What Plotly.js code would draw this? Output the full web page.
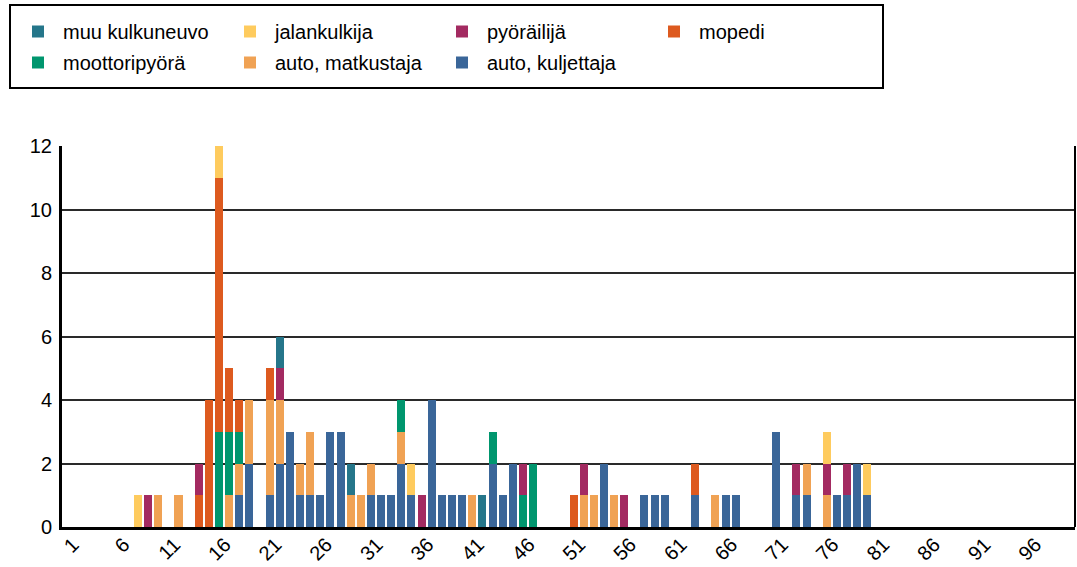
<!DOCTYPE html>
<html>
<head>
<meta charset="utf-8">
<script src="https://cdn.plot.ly/plotly-3.0.1.min.js"></script>
<style>
  html, body { margin: 0; padding: 0; background: #fff; }
  #chart { width: 1077px; height: 567px; }
</style>
</head>
<body>
<div id="chart"></div>
<script>
// Ages 1..100 (category axis)
const ages = Array.from({length: 100}, (_, i) => i + 1);
const xTickLabels = [1, 6, 11, 16, 21, 26, 31, 36, 41, 46, 51, 56, 61, 66, 71, 76, 81, 86, 91, 96];

// Series values, one value per age (rows of ten: 1-10, 11-20, ...)
const autoKuljettaja = [
  0,0,0,0,0,0,0,0,0,0,
  0,0,0,0,0,0,0,1,2,0,
  1,2,3,1,1,1,3,3,0,0,
  1,1,1,2,1,0,4,1,1,1,
  0,0,2,1,2,0,0,0,0,0,
  0,0,0,2,0,0,0,1,1,1,
  0,0,1,0,0,1,1,0,0,0,
  3,0,1,1,0,0,1,1,2,1,
  0,0,0,0,0,0,0,0,0,0,
  0,0,0,0,0,0,0,0,0,0
];
const autoMatkustaja = [
  0,0,0,0,0,0,0,0,0,1,
  0,1,0,0,0,0,1,1,2,0,
  3,2,0,1,2,0,0,0,1,1,
  1,0,0,1,0,0,0,0,0,0,
  1,0,0,0,0,0,0,0,0,0,
  0,1,1,0,1,0,0,0,0,0,
  0,0,0,0,1,0,0,0,0,0,
  0,0,0,1,0,1,0,0,0,0,
  0,0,0,0,0,0,0,0,0,0,
  0,0,0,0,0,0,0,0,0,0
];
const moottoripyora = [
  0,0,0,0,0,0,0,0,0,0,
  0,0,0,0,0,3,2,1,0,0,
  0,0,0,0,0,0,0,0,0,0,
  0,0,0,1,0,0,0,0,0,0,
  0,0,1,0,0,1,2,0,0,0,
  0,0,0,0,0,0,0,0,0,0,
  0,0,0,0,0,0,0,0,0,0,
  0,0,0,0,0,0,0,0,0,0,
  0,0,0,0,0,0,0,0,0,0,
  0,0,0,0,0,0,0,0,0,0
];
const mopedi = [
  0,0,0,0,0,0,0,0,0,0,
  0,0,0,1,4,8,2,1,0,0,
  1,0,0,0,0,0,0,0,0,0,
  0,0,0,0,0,0,0,0,0,0,
  0,0,0,0,0,0,0,0,0,0,
  1,0,0,0,0,0,0,0,0,0,
  0,0,1,0,0,0,0,0,0,0,
  0,0,0,0,0,0,0,0,0,0,
  0,0,0,0,0,0,0,0,0,0,
  0,0,0,0,0,0,0,0,0,0
];
const pyorailija = [
  0,0,0,0,0,0,0,0,1,0,
  0,0,0,1,0,0,0,0,0,0,
  0,1,0,0,0,0,0,0,0,0,
  0,0,0,0,0,1,0,0,0,0,
  0,0,0,0,0,1,0,0,0,0,
  0,1,0,0,0,1,0,0,0,0,
  0,0,0,0,0,0,0,0,0,0,
  0,0,1,0,0,1,0,1,0,0,
  0,0,0,0,0,0,0,0,0,0,
  0,0,0,0,0,0,0,0,0,0
];
const jalankulkija = [
  0,0,0,0,0,0,0,1,0,0,
  0,0,0,0,0,1,0,0,0,0,
  0,0,0,0,0,0,0,0,0,0,
  0,0,0,0,1,0,0,0,0,0,
  0,0,0,0,0,0,0,0,0,0,
  0,0,0,0,0,0,0,0,0,0,
  0,0,0,0,0,0,0,0,0,0,
  0,0,0,0,0,1,0,0,0,1,
  0,0,0,0,0,0,0,0,0,0,
  0,0,0,0,0,0,0,0,0,0
];
const muuKulkuneuvo = [
  0,0,0,0,0,0,0,0,0,0,
  0,0,0,0,0,0,0,0,0,0,
  0,1,0,0,0,0,0,0,1,0,
  0,0,0,0,0,0,0,0,0,0,
  0,1,0,0,0,0,0,0,0,0,
  0,0,0,0,0,0,0,0,0,0,
  0,0,0,0,0,0,0,0,0,0,
  0,0,0,0,0,0,0,0,0,0,
  0,0,0,0,0,0,0,0,0,0,
  0,0,0,0,0,0,0,0,0,0
];

// Stack order bottom -> top
const series = [
  {name: 'auto, kuljettaja', y: autoKuljettaja, color: '#3A6699', legend: 'legend2'},
  {name: 'auto, matkustaja', y: autoMatkustaja, color: '#F0A254', legend: 'legend2'},
  {name: 'moottoripyörä',    y: moottoripyora,  color: '#00966E', legend: 'legend2'},
  {name: 'mopedi',           y: mopedi,         color: '#DD5A1F', legend: 'legend'},
  {name: 'pyöräilijä',       y: pyorailija,     color: '#A32A61', legend: 'legend'},
  {name: 'jalankulkija',     y: jalankulkija,   color: '#FECB5E', legend: 'legend'},
  {name: 'muu kulkuneuvo',   y: muuKulkuneuvo,  color: '#25768A', legend: 'legend'}
];

const traces = series.map(s => ({
  type: 'bar',
  name: s.name,
  x: ages,
  y: s.y,
  legend: s.legend,
  marker: {color: s.color, line: {width: 0}},
  hoverinfo: 'x+y+name'
}));

const FONT = 'Liberation Sans, Arial, sans-serif';
const plotL = 62, plotR = 1075, plotT = 146, plotB = 527;
const pw = plotR - plotL, ph = plotB - plotT;
const px2x = v => (v - plotL) / pw;
const px2y = v => (plotB - v) / ph;

const legendCommon = {
  orientation: 'h',
  xanchor: 'left',
  yanchor: 'top',
  x: px2x(13),
  bgcolor: 'rgba(0,0,0,0)',
  borderwidth: 0,
  font: {family: FONT, size: 20, color: '#000'},
  itemwidth: 40,
  entrywidth: 157,
  traceorder: 'reversed',
  itemclick: false,
  itemdoubleclick: false
};

const layout = {
  width: 1077,
  height: 567,
  margin: {l: plotL, r: 1077 - plotR, t: plotT, b: 567 - plotB, pad: 0},
  paper_bgcolor: '#fff',
  plot_bgcolor: '#fff',
  barmode: 'stack',
  bargap: 0.21,
  font: {family: FONT, size: 20, color: '#000'},
  showlegend: true,
  legend: Object.assign({}, legendCommon, {y: px2y(12)}),
  legend2: Object.assign({}, legendCommon, {y: px2y(43)}),
  xaxis: {
    type: 'linear',
    range: [0.5, 100.5],
    tickmode: 'array',
    tickvals: xTickLabels.map(v => v + 0.6),
    ticktext: xTickLabels.map(String),
    tickangle: -45,
    ticks: '',
    ticklabelstandoff: -5,
    showgrid: false,
    zeroline: false,
    showline: true,
    linecolor: '#000',
    linewidth: 3,
    mirror: false,
    tickfont: {family: FONT, size: 20, color: '#000'},
    fixedrange: true
  },
  yaxis: {
    range: [0, 12],
    tickmode: 'linear',
    tick0: 0,
    dtick: 2,
    ticks: '',
    ticklabelstandoff: 3,
    showgrid: true,
    gridcolor: '#2a2a2a',
    gridwidth: 2,
    zeroline: false,
    showline: true,
    linecolor: '#000',
    linewidth: 3,
    tickfont: {family: FONT, size: 20, color: '#000'},
    fixedrange: true
  },
  shapes: [
    // legend frame
    {type: 'rect', xref: 'paper', yref: 'paper',
     x0: px2x(10), x1: px2x(883), y0: px2y(88), y1: px2y(5),
     line: {color: '#000', width: 2}, fillcolor: 'rgba(0,0,0,0)', layer: 'above'},
    // right border of plot area
    {type: 'line', xref: 'paper', yref: 'paper', x0: 1, x1: 1, y0: 0, y1: 1,
     line: {color: '#000', width: 2}}
  ]
};

Plotly.newPlot('chart', traces, layout, {displayModeBar: false, staticPlot: false, responsive: false});
</script>
</body>
</html>
